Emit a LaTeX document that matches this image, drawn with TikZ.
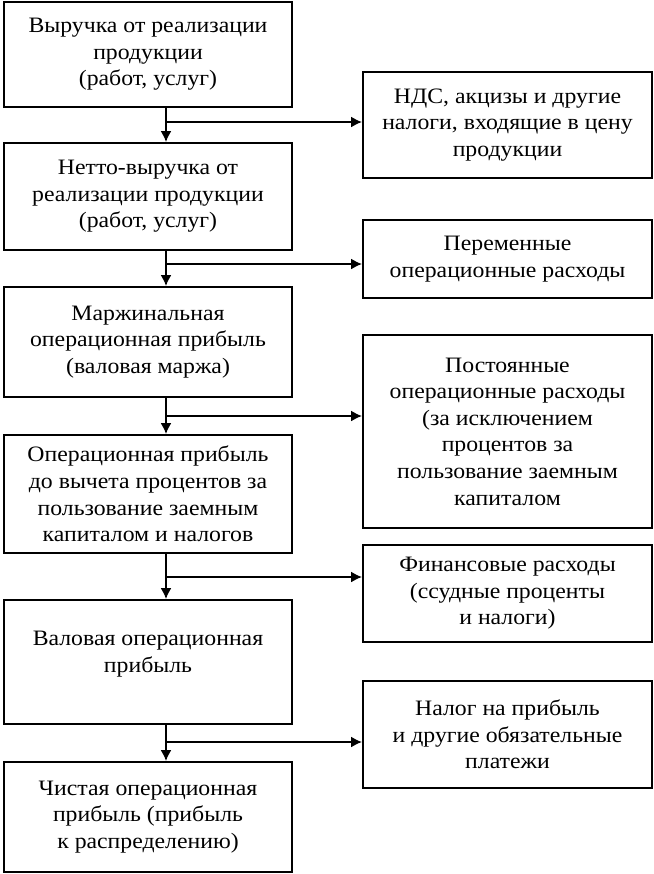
\documentclass[tikz,border=0pt]{standalone}
\usepackage{fontspec}
\setmainfont{Liberation Serif}[FakeStretch = 1.08]
\usepackage{tikz}
\usetikzlibrary{arrows.meta}
\usetikzlibrary{positioning}
\tikzset{box/.style = {draw, line width = 1pt, align = center, inner sep = 0,
                       font = \fontsize{11}{13.3}\selectfont}}
\tikzset{lbox/.style = {box, minimum width = 144pt}}
\tikzset{rbox/.style = {box, minimum width = 144.5pt}}
\tikzset{arr/.style = {line width = 0.8pt, -{Latex[length = 5.5pt, width = 5.5pt]}}}

\begin{document}
\begin{tikzpicture}[x = 0.5pt, y = -0.5pt]
        \useasboundingbox (0, 0) rectangle (654, 874);

        \node [lbox, minimum height = 52.5pt] (b1) at (148, 54.5) {Выручка от реализации\\продукции\\(работ, услуг)};
        \node [lbox, minimum height = 53.5pt] (b2) at (148, 196.5) {Нетто-выручка от\\реализации продукции\\(работ, услуг)};
        \node [lbox, minimum height = 55pt] (b3) at (148, 342) {Маржинальная\\операционная прибыль\\(валовая маржа)};
        \node [lbox, minimum height = 59pt] (b4) at (148, 494) {Операционная прибыль\\до вычета процентов за\\пользование заемным\\капиталом и налогов};
        \node [lbox, minimum height = 62pt] (b5) at (148, 662) {Валовая операционная\\прибыль\\[-3pt]};
        \node [lbox, minimum height = 55pt] (b6) at (148, 817) {Чистая операционная\\прибыль (прибыль\\к распределению)};

        \node [rbox, minimum height = 53pt] (r1) at (507.5, 125) {НДС, акцизы и другие\\налоги, входящие в цену\\продукции};
        \node [rbox, minimum height = 39pt] (r2) at (507.5, 259) {Переменные\\операционные расходы};
        \node [rbox, minimum height = 96.5pt] (r3) at (507.5, 431.5) {Постоянные\\операционные расходы\\(за исключением\\процентов за\\пользование заемным\\капиталом};
        \node [rbox, minimum height = 48.5pt] (r4) at (507.5, 593.5) {Финансовые расходы\\(ссудные проценты\\и налоги)};
        \node [rbox, minimum height = 53.5pt] (r5) at (507.5, 734.5) {Налог на прибыль\\и другие обязательные\\платежи};

        % spine and branch points
        \coordinate (spine) at (166, 0);
        \coordinate (j1) at (166, 122);
        \coordinate (j2) at (166, 264);
        \coordinate (j3) at (166, 416);
        \coordinate (j4) at (166, 577);
        \coordinate (j5) at (166, 742);

        \draw [arr] (b1.south -| spine) -- (b2.north -| spine);
        \draw [arr] (b2.south -| spine) -- (b3.north -| spine);
        \draw [arr] (b3.south -| spine) -- (b4.north -| spine);
        \draw [arr] (b4.south -| spine) -- (b5.north -| spine);
        \draw [arr] (b5.south -| spine) -- (b6.north -| spine);

        \draw [arr] (j1) -- (j1 -| r1.west);
        \draw [arr] (j2) -- (j2 -| r2.west);
        \draw [arr] (j3) -- (j3 -| r3.west);
        \draw [arr] (j4) -- (j4 -| r4.west);
        \draw [arr] (j5) -- (j5 -| r5.west);
      \end{tikzpicture}
\end{document}
